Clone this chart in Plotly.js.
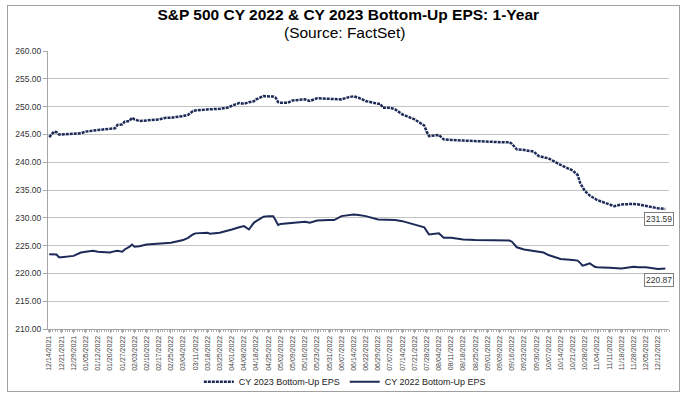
<!DOCTYPE html>
<html>
<head>
<meta charset="utf-8">
<script src="https://cdn.plot.ly/plotly-3.0.1.min.js"></script>
<style>
html,body{margin:0;padding:0;background:#fff;}
#wrap{position:relative;width:687px;height:401px;}
#chart{width:687px;height:401px;}
#frame{position:absolute;left:7px;top:5px;width:671px;height:385px;border:1px solid #a0a0a0;pointer-events:none;}
</style>
</head>
<body>
<div id="wrap"><div id="chart"></div><div id="frame"></div></div>
<script>
// Weekly axis labels (every 5th trading day)
const tickLabels = ["12/14/2021","12/21/2021","12/29/2021","01/05/2022","01/12/2022","01/20/2022","01/27/2022","02/03/2022","02/10/2022","02/17/2022","02/25/2022","03/04/2022","03/11/2022","03/18/2022","03/25/2022","04/01/2022","04/08/2022","04/18/2022","04/25/2022","05/02/2022","05/09/2022","05/16/2022","05/23/2022","05/31/2022","06/07/2022","06/14/2022","06/22/2022","06/29/2022","07/07/2022","07/14/2022","07/21/2022","07/28/2022","08/04/2022","08/11/2022","08/18/2022","08/25/2022","09/01/2022","09/09/2022","09/16/2022","09/23/2022","09/30/2022","10/07/2022","10/14/2022","10/21/2022","10/28/2022","11/04/2022","11/11/2022","11/18/2022","11/28/2022","12/05/2022","12/12/2022"];

// Trading-day number (0 = 12/14/2021) of each sampled observation
const tradingDay = [0,2,3,4,5,10,13,15,18,20,25,27,28,30,31,33,34,35,37,40,45,48,50,55,57,59,60,65,66,70,73,75,78,80,82,84,85,88,90,92,93,94,95,98,100,105,107,110,115,117,120,123,125,127,130,135,136,137,140,142,145,150,153,154,155,156,160,162,165,170,175,180,185,189,190,192,195,199,200,201,203,205,210,215,217,218,219,220,222,224,225,230,232,235,240,242,245,250,253];

const cy2023 = [244.5,245.5,245.4,245.0,245.0,245.05,245.2,245.5,245.6,245.8,246.0,246.1,246.7,246.8,247.3,247.4,248.0,247.7,247.4,247.5,247.7,248.0,248.0,248.3,248.5,249.2,249.3,249.5,249.5,249.6,249.8,250.1,250.65,250.5,250.8,250.95,251.3,251.9,251.9,251.8,251.6,250.8,250.7,250.7,251.1,251.3,251.0,251.5,251.4,251.35,251.3,251.7,251.85,251.6,251.0,250.5,250.5,249.8,249.8,249.5,248.6,247.7,246.9,246.6,245.5,244.7,244.9,244.1,244.0,243.9,243.7,243.7,243.6,243.6,243.3,242.3,242.2,241.9,241.5,241.1,240.9,240.7,239.5,238.5,237.7,236.3,235.5,234.8,234.0,233.5,233.2,232.4,232.1,232.4,232.5,232.4,232.1,231.7,231.59];

const cy2022 = [223.45,223.45,223.4,222.9,222.9,223.15,223.75,223.9,224.05,223.9,223.75,224.0,224.05,223.9,224.3,224.8,225.2,224.8,224.9,225.2,225.4,225.45,225.5,226.0,226.4,227.0,227.2,227.3,227.15,227.3,227.6,227.9,228.3,228.5,227.9,229.1,229.4,230.2,230.3,230.3,229.5,228.7,228.9,229.0,229.1,229.3,229.1,229.5,229.6,229.6,230.3,230.5,230.6,230.5,230.3,229.7,229.7,229.7,229.7,229.6,229.4,228.8,228.5,228.3,227.6,227.0,227.2,226.4,226.4,226.1,226.0,226.0,225.9,225.9,225.7,224.7,224.3,224.0,223.9,223.8,223.75,223.3,222.6,222.4,222.3,221.9,221.4,221.5,221.8,221.2,221.1,221.0,221.0,220.9,221.2,221.1,221.1,220.8,220.87];

const seriesNames = ["CY 2023 Bottom-Up EPS","CY 2022 Bottom-Up EPS"];
const titleText = "S&P 500 CY 2022 & CY 2023 Bottom-Up EPS: 1-Year";
const subtitleText = "(Source: FactSet)";
const lineColor = "#1d2a57";
const font = "Arial, 'Liberation Sans', sans-serif";

const lastIdx = tradingDay.length - 1;

const traces = [
  {x: tradingDay, y: cy2023, name: seriesNames[0], type: "scatter", mode: "lines",
   line: {color: lineColor, width: 2.5, dash: "3px,1px"}},
  {x: tradingDay, y: cy2022, name: seriesNames[1], type: "scatter", mode: "lines",
   line: {color: lineColor, width: 2}}
];

const layout = {
  width: 687, height: 401,
  margin: {l: 48, r: 18, t: 51, b: 72, autoexpand: false},
  paper_bgcolor: "#fff", plot_bgcolor: "#fff",
  font: {family: font, color: "#333"},
  title: {
    text: "<b>" + titleText + "</b>",
    font: {family: font, size: 15.5, color: "#000"},
    x: 0.507, xref: "container", y: 0.964, yref: "container", yanchor: "middle"
  },
  xaxis: {
    range: [-0.5, 254.5],
    tickmode: "array",
    tickvals: tickLabels.map((_, i) => i * 5),
    ticktext: tickLabels,
    tickangle: -90,
    tickfont: {size: 7, color: "#444"},
    showgrid: false, zeroline: false,
    showline: true, linecolor: "#a6a6a6", linewidth: 1,
    ticks: "outside", ticklen: 3, tickcolor: "#a6a6a6",
    minor: {tickmode: "linear", tick0: 0.5, dtick: 1, ticks: "outside", ticklen: 2, tickcolor: "#b0b0b0", showgrid: false}
  },
  yaxis: {
    range: [210, 260],
    tickmode: "linear", tick0: 210, dtick: 5,
    tickformat: ".2f",
    tickfont: {size: 8.5, color: "#333"},
    showgrid: true, gridcolor: "#c3c3c3", gridwidth: 1,
    zeroline: false,
    showline: true, linecolor: "#a6a6a6", linewidth: 1,
    ticks: "outside", ticklen: 4, tickcolor: "#a6a6a6"
  },
  legend: {
    orientation: "h", x: 0.478, xanchor: "center", y: -0.19, yanchor: "middle",
    font: {size: 9, color: "#222"}, bgcolor: "rgba(0,0,0,0)"
  },
  showlegend: true,
  annotations: [
    {x: 0.478, y: 1.068, xref: "paper", yref: "paper", xanchor: "center", yanchor: "middle",
     text: subtitleText, showarrow: false, font: {family: font, size: 15.5, color: "#000"}},
    {x: tradingDay[lastIdx], y: cy2023[lastIdx], xref: "x", yref: "y",
     text: cy2023[lastIdx].toFixed(2), showarrow: false, xshift: -6, yshift: -10,
     font: {size: 8.5, color: "#333"}, bordercolor: "#7f7f7f", borderwidth: 1, borderpad: 1, bgcolor: "#fff"},
    {x: tradingDay[lastIdx], y: cy2022[lastIdx], xref: "x", yref: "y",
     text: cy2022[lastIdx].toFixed(2), showarrow: false, xshift: -6, yshift: -11,
     font: {size: 8.5, color: "#333"}, bordercolor: "#7f7f7f", borderwidth: 1, borderpad: 1, bgcolor: "#fff"}
  ]
};

Plotly.newPlot("chart", traces, layout, {displayModeBar: false, staticPlot: true});
</script>
</body>
</html>
